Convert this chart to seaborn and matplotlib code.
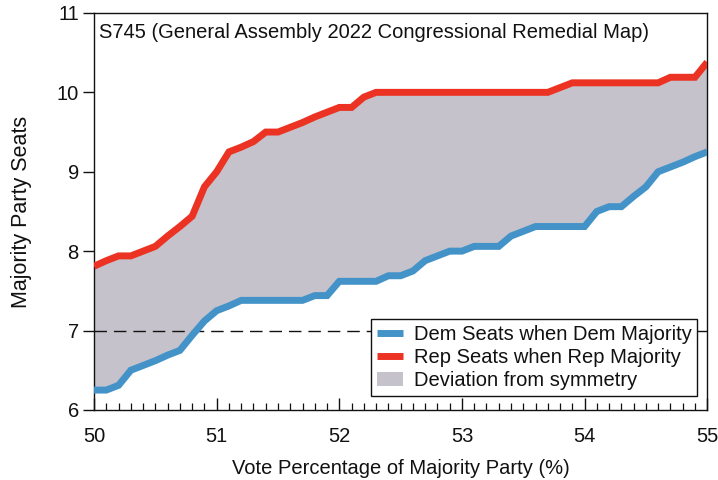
import numpy as np
import pandas as pd
import matplotlib
matplotlib.use("Agg")
import matplotlib.pyplot as plt
from matplotlib.lines import Line2D
from matplotlib.patches import Patch
import seaborn as sns

# Vote share of the majority party (%)
vote_pct = [50.0, 50.1, 50.2, 50.3, 50.4, 50.5, 50.6, 50.7, 50.8, 50.9,
            51.0, 51.1, 51.2, 51.3, 51.4, 51.5, 51.6, 51.7, 51.8, 51.9,
            52.0, 52.1, 52.2, 52.3, 52.4, 52.5, 52.6, 52.7, 52.8, 52.9,
            53.0, 53.1, 53.2, 53.3, 53.4, 53.5, 53.6, 53.7, 53.8, 53.9,
            54.0, 54.1, 54.2, 54.3, 54.4, 54.5, 54.6, 54.7, 54.8, 54.9,
            55.0]

# Seats won by Democrats when they hold the majority
dem_seats = [6.25, 6.25, 6.31, 6.50, 6.56, 6.62, 6.69, 6.75, 6.94, 7.12,
             7.25, 7.31, 7.38, 7.38, 7.38, 7.38, 7.38, 7.38, 7.44, 7.44,
             7.62, 7.62, 7.62, 7.62, 7.69, 7.69, 7.75, 7.88, 7.94, 8.00,
             8.00, 8.06, 8.06, 8.06, 8.19, 8.25, 8.31, 8.31, 8.31, 8.31,
             8.31, 8.50, 8.56, 8.56, 8.69, 8.81, 9.00, 9.06, 9.12, 9.19,
             9.25]

# Seats won by Republicans when they hold the majority
rep_seats = [7.81, 7.88, 7.94, 7.94, 8.00, 8.06, 8.19, 8.31, 8.44, 8.81,
             9.00, 9.25, 9.31, 9.38, 9.50, 9.50, 9.56, 9.62, 9.69, 9.75,
             9.81, 9.81, 9.94, 10.00, 10.00, 10.00, 10.00, 10.00, 10.00, 10.00,
             10.00, 10.00, 10.00, 10.00, 10.00, 10.00, 10.00, 10.00, 10.06, 10.12,
             10.12, 10.12, 10.12, 10.12, 10.12, 10.12, 10.12, 10.19, 10.19, 10.19,
             10.38]

series_names = ["Dem Seats when Dem Majority", "Rep Seats when Rep Majority"]
fill_name = "Deviation from symmetry"
title = "S745 (General Assembly 2022 Congressional Remedial Map)"
x_ticks = [50, 51, 52, 53, 54, 55]
y_ticks = [6, 7, 8, 9, 10, 11]

BLUE = "#4393C8"
RED = "#EC3323"
FILL = "#C6C2CC"

sns.set_style("ticks")
plt.rcParams["font.family"] = ["Liberation Sans", "DejaVu Sans"]
plt.rcParams["axes.axisbelow"] = False
for key in ("text.color", "axes.labelcolor", "xtick.color", "ytick.color",
            "xtick.labelcolor", "ytick.labelcolor"):
    plt.rcParams[key] = "#111111"

df = pd.DataFrame({
    "vote": vote_pct * 2,
    "seats": dem_seats + rep_seats,
    "series": [series_names[0]] * len(vote_pct) + [series_names[1]] * len(vote_pct),
})

fig = plt.figure(figsize=(7.18, 4.80), dpi=100)
ax = fig.add_axes([0.131, 0.146, 0.854, 0.827])

ax.fill_between(vote_pct, dem_seats, rep_seats, color=FILL, linewidth=0, zorder=1)
ax.axhline(7, color="#111111", linestyle=(0, (9, 5)), linewidth=1.0, zorder=2)

sns.lineplot(data=df, x="vote", y="seats", hue="series",
             palette={series_names[0]: BLUE, series_names[1]: RED},
             linewidth=5, legend=False, ax=ax, zorder=3)
for ln in ax.lines:
    ln.set_solid_joinstyle("miter")
    ln.set_solid_capstyle("butt")

ax.set_xlim(50, 55)
ax.set_ylim(6, 11)
ax.set_xticks(x_ticks)
ax.set_xticks(np.arange(50, 55.001, 0.1), minor=True)
ax.set_yticks(y_ticks)
ax.tick_params(axis="x", which="both", bottom=True, top=False, direction="in")
ax.tick_params(axis="x", which="major", length=9, width=1,
               labelsize=14.5, pad=12)
ax.tick_params(axis="x", which="minor", length=5, width=0.9)
ax.tick_params(axis="y", which="major", left=True, direction="out", length=8,
               width=1, labelsize=14.5, pad=3)
ax.tick_params(axis="y", which="minor", left=False)
for s in ax.spines.values():
    s.set_visible(True)
    s.set_linewidth(1.0)
    s.set_color("#111111")

ax.set_xlabel("Vote Percentage of Majority Party (%)", fontsize=14.5, labelpad=10)
ax.set_ylabel("Majority Party Seats", fontsize=15.5, labelpad=18)
ax.text(0.008, 0.975, title, transform=ax.transAxes, fontsize=14.5,
        ha="left", va="top")

handles = [
    Line2D([0], [0], color=BLUE, linewidth=5, solid_capstyle="butt"),
    Line2D([0], [0], color=RED, linewidth=5, solid_capstyle="butt"),
    Patch(facecolor=FILL, edgecolor="none"),
]
leg = ax.legend(handles, series_names + [fill_name], loc="lower right",
                bbox_to_anchor=(0.984, 0.035), fontsize=14.5, frameon=True,
                fancybox=False, framealpha=1, edgecolor="#111111",
                handlelength=1.3, handletextpad=0.5, borderpad=0.3,
                labelspacing=0.2, borderaxespad=0)
leg.get_frame().set_linewidth(1.0)
leg.set_zorder(5)

fig.savefig("out.png", dpi=100)
